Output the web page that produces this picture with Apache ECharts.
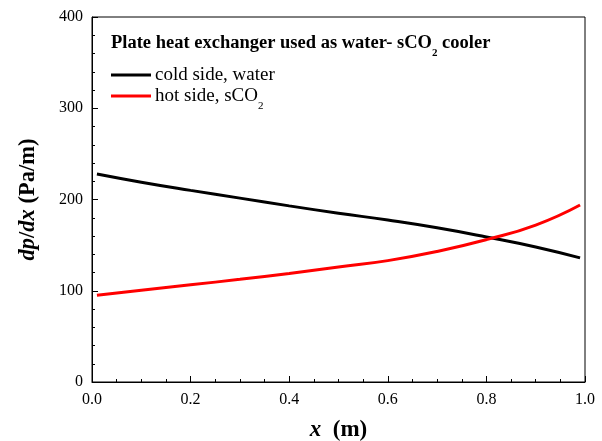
<!DOCTYPE html>
<html>
<head>
<meta charset="utf-8">
<script src="https://cdn.jsdelivr.net/npm/echarts@6/dist/echarts.min.js"></script>
<style>
  html, body { margin: 0; padding: 0; background: #fff; }
  #main { width: 602px; height: 441px; }
</style>
</head>
<body>
<div id="main"></div>
<script>
// x position along the exchanger (m)
var xPos = [0.01, 0.1, 0.2, 0.3, 0.4, 0.5, 0.6, 0.7, 0.8, 0.9, 0.99];
// cold side, water dp/dx (Pa/m)
var coldWater = [228, 219, 210, 201.5, 193, 185, 177.5, 169, 159, 148, 136];
// hot side, sCO2 dp/dx (Pa/m)
var hotCO2 = [95, 100.5, 106.5, 112.5, 119, 126, 133, 143, 156, 172, 194];

var serif = '"Liberation Serif", "Times New Roman", serif';

function pairs(xs, ys) {
  return xs.map(function (x, i) { return [x, ys[i]]; });
}

var chart = echarts.init(document.getElementById('main'));

var option = {
  backgroundColor: '#fff',
  animation: false,
  textStyle: { fontFamily: serif, color: '#000' },
  title: {
    left: 106,
    top: 28,
    text: '{t|Plate heat exchanger used as water- sCO}{s|2}{t| cooler}',
    textStyle: {
      rich: {
        t: { fontFamily: serif, fontWeight: 'bold', fontSize: 18.5, color: '#000', verticalAlign: 'bottom', lineHeight: 20 },
        s: { fontFamily: serif, fontWeight: 'bold', fontSize: 11, color: '#000', verticalAlign: 'bottom', lineHeight: 20, padding: [0, 0, -6, 0] }
      }
    }
  },
  legend: {
    left: 106,
    top: 61,
    orient: 'vertical',
    icon: 'rect',
    itemWidth: 40,
    itemHeight: 3,
    itemGap: 2,
    data: ['cold side, water', 'hot side, sCO2'],
    formatter: function (name) {
      if (name === 'hot side, sCO2') return '{t|hot side, sCO}{s|2}';
      return '{t|' + name + '}';
    },
    textStyle: {
      padding: [0, 0, 0, -1],
      rich: {
        t: { fontFamily: serif, fontSize: 19, color: '#000', verticalAlign: 'bottom', lineHeight: 20 },
        s: { fontFamily: serif, fontSize: 11, color: '#000', verticalAlign: 'bottom', lineHeight: 20, padding: [0, 0, -6, 0] }
      }
    }
  },
  grid: {
    left: 92, right: 17, top: 17, bottom: 59,
    outerBoundsMode: 'none',
    show: true, borderColor: '#000', borderWidth: 1
  },
  xAxis: {
    type: 'value',
    min: 0,
    max: 1,
    interval: 0.2,
    name: '{i|x}{b|  (m)}',
    nameLocation: 'middle',
    nameGap: 37,
    nameTextStyle: {
      rich: {
        i: { fontFamily: serif, fontSize: 23, fontWeight: 'bold', fontStyle: 'italic', color: '#000' },
        b: { fontFamily: serif, fontSize: 23, fontWeight: 'bold', color: '#000' }
      }
    },
    axisLine: { lineStyle: { color: '#000', width: 1 } },
    axisTick: { inside: true, length: 6, lineStyle: { color: '#000' } },
    minorTick: { show: true, splitNumber: 4, length: 3, lineStyle: { color: '#000' } },
    splitLine: { show: false },
    axisLabel: {
      fontFamily: serif, fontSize: 16, color: '#000', margin: 10,
      formatter: function (v) { return v.toFixed(1); }
    }
  },
  yAxis: {
    type: 'value',
    min: 0,
    max: 400,
    interval: 100,
    name: '{i|dp}{b|/}{i|dx}{b| (Pa/m)}',
    nameLocation: 'middle',
    nameGap: 52,
    nameTextStyle: {
      rich: {
        i: { fontFamily: serif, fontSize: 22.5, fontWeight: 'bold', fontStyle: 'italic', color: '#000' },
        b: { fontFamily: serif, fontSize: 22.5, fontWeight: 'bold', color: '#000' }
      }
    },
    axisLine: { show: true, lineStyle: { color: '#000', width: 1 } },
    axisTick: { inside: true, length: 6, lineStyle: { color: '#000' } },
    minorTick: { show: true, splitNumber: 5, length: 3, lineStyle: { color: '#000' } },
    splitLine: { show: false },
    axisLabel: { fontFamily: serif, fontSize: 16, color: '#000', margin: 9 }
  },
  series: [
    {
      name: 'cold side, water',
      type: 'line',
      smooth: true,
      symbol: 'none',
      lineStyle: { color: '#000', width: 3 },
      itemStyle: { color: '#000' },
      data: pairs(xPos, coldWater)
    },
    {
      name: 'hot side, sCO2',
      type: 'line',
      smooth: true,
      symbol: 'none',
      lineStyle: { color: '#ff0000', width: 3 },
      itemStyle: { color: '#ff0000' },
      data: pairs(xPos, hotCO2)
    }
  ]
};

option && chart.setOption(option);
</script>
</body>
</html>
